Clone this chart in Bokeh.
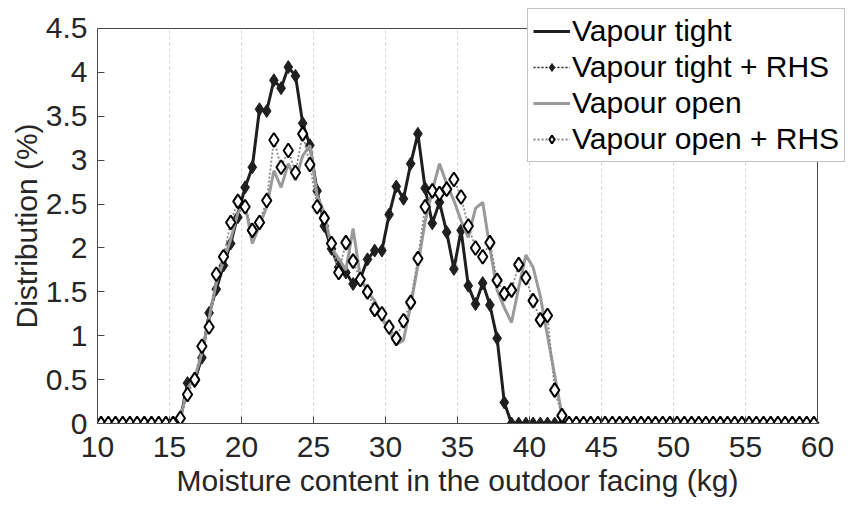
from bokeh.plotting import figure
from bokeh.models import Legend, LegendItem, FixedTicker, Title
from bokeh.embed import file_html
from bokeh.resources import INLINE

FONT = "Liberation Sans"

# Moisture content bin centres (kg)
moisture = [10.25, 10.75, 11.25, 11.75, 12.25, 12.75, 13.25, 13.75, 14.25, 14.75,
            15.25, 15.75, 16.25, 16.75, 17.25, 17.75, 18.25, 18.75, 19.25, 19.75,
            20.25, 20.75, 21.25, 21.75, 22.25, 22.75, 23.25, 23.75, 24.25, 24.75,
            25.25, 25.75, 26.25, 26.75, 27.25, 27.75, 28.25, 28.75, 29.25, 29.75,
            30.25, 30.75, 31.25, 31.75, 32.25, 32.75, 33.25, 33.75, 34.25, 34.75,
            35.25, 35.75, 36.25, 36.75, 37.25, 37.75, 38.25, 38.75, 39.25, 39.75,
            40.25, 40.75, 41.25, 41.75, 42.25, 42.75, 43.25, 43.75, 44.25, 44.75,
            45.25, 45.75, 46.25, 46.75, 47.25, 47.75, 48.25, 48.75, 49.25, 49.75,
            50.25, 50.75, 51.25, 51.75, 52.25, 52.75, 53.25, 53.75, 54.25, 54.75,
            55.25, 55.75, 56.25, 56.75, 57.25, 57.75, 58.25, 58.75, 59.25, 59.75]

tight_rhs = [0]*11 + [0.05, 0.46, 0.48, 0.75, 1.26, 1.53, 1.80, 2.05, 2.35, 2.69,
             2.92, 3.58, 3.56, 3.91, 3.82, 4.06, 3.96, 3.42, 3.17, 2.65,
             2.25, 1.99, 1.78, 1.72, 1.59, 1.65, 1.87, 1.97, 1.97, 2.38,
             2.70, 2.56, 2.96, 3.30, 2.68, 2.28, 2.52, 2.18, 1.76, 2.20,
             1.57, 1.36, 1.60, 1.35, 0.97, 0.24] + [0]*43

tight = [0]*11 + [0.05, 0.45, 0.48, 0.76, 1.25, 1.53, 1.80, 2.05, 2.38, 2.69,
         2.92, 3.58, 3.56, 3.91, 3.82, 4.06, 3.96, 3.42, 3.17, 2.65,
         2.25, 1.99, 1.78, 1.72, 1.59, 1.65, 1.87, 1.97, 1.97, 2.38,
         2.70, 2.56, 2.96, 3.30, 2.68, 2.28, 2.52, 2.18, 1.76, 2.20,
         1.57, 1.36, 1.60, 1.35, 0.97, 0.24] + [0]*43

open_rhs = [0]*11 + [0.06, 0.33, 0.50, 0.88, 1.10, 1.70, 1.90, 2.29, 2.53, 2.47,
            2.20, 2.29, 2.54, 3.23, 2.92, 3.11, 2.86, 3.30, 2.95, 2.47,
            2.34, 2.05, 1.72, 2.06, 1.85, 1.64, 1.50, 1.30, 1.25, 1.10,
            0.97, 1.17, 1.38, 1.88, 2.47, 2.65, 2.62, 2.67, 2.78, 2.58,
            2.25, 2.00, 1.90, 2.06, 1.63, 1.48, 1.52, 1.81, 1.66, 1.40,
            1.18, 1.23, 0.38, 0.09] + [0]*35

vopen = [0]*11 + [0.05, 0.40, 0.52, 0.80, 1.20, 1.60, 1.85, 2.10, 2.40, 2.50,
         2.05, 2.25, 2.47, 2.88, 2.69, 2.96, 2.77, 3.05, 3.17, 2.60,
         2.40, 2.00, 1.88, 1.75, 2.22, 1.67, 1.50, 1.40, 1.20, 1.05,
         0.90, 0.95, 1.35, 1.80, 2.30, 2.65, 2.96, 2.73, 2.54, 2.31,
         2.12, 2.45, 2.52, 2.00, 1.52, 1.32, 1.15, 1.55, 1.92, 1.78,
         1.45, 1.00, 0.55, 0.10] + [0]*35

x_ticks = [10, 15, 20, 25, 30, 35, 40, 45, 50, 55, 60]
y_ticks = [0, 0.5, 1, 1.5, 2, 2.5, 3, 3.5, 4, 4.5]
y_tick_labels = ["0", "0.5", "1", "1.5", "2", "2.5", "3", "3.5", "4", "4.5"]
x_title = "Moisture content in the outdoor facing (kg)"
y_title = "Distribution (%)"

# Axes box: x 10..60, y 0..4.5.  The frame is extended to the top/right so that the
# legend (which sticks out of the axes box in the original) is not clipped.
X0, X1 = x_ticks[0], x_ticks[-1]
Y0, Y1 = y_ticks[0], y_ticks[-1]
PX_PER_X = 14.4     # pixels per kg
PX_PER_Y = 87.78    # pixels per %
LEFT, BOTTOM, W, H = 97, 86, 848, 509
frame_w = W - LEFT
frame_h = H - BOTTOM

p = figure(width=W, height=H,
           x_range=(X0, X0 + frame_w / PX_PER_X), y_range=(Y0, Y0 + frame_h / PX_PER_Y),
           output_backend="svg", toolbar_location=None,
           min_border_left=LEFT, min_border_right=0, min_border_top=0, min_border_bottom=BOTTOM)
p.background_fill_color = "white"
p.border_fill_color = "white"
p.outline_line_color = None

AX = "#4a4a4a"
TXT = "#262626"
for ax in (p.xaxis[0], p.yaxis[0]):
    ax.axis_line_color = AX
    ax.axis_line_width = 1
    ax.major_tick_line_color = AX
    ax.major_tick_in = 7
    ax.major_tick_out = 0
    ax.minor_tick_line_color = None
    ax.major_label_text_font = FONT
    ax.major_label_text_font_size = "30px"
    ax.major_label_text_color = TXT

p.xaxis.ticker = FixedTicker(ticks=x_ticks)
p.yaxis.ticker = FixedTicker(ticks=y_ticks)
p.xaxis.bounds = (X0, X1)
p.yaxis.bounds = (Y0, Y1)
p.yaxis.major_label_overrides = {t: l for t, l in zip(y_ticks, y_tick_labels)}
p.xaxis.major_label_standoff = 13
p.yaxis.major_label_standoff = 10

# Axis titles, centred on the axes box (10..60, 0..4.5) rather than on the wider frame
x_text_w = 562   # approx. rendered width of the x title at 30px
y_text_w = 205   # approx. rendered width of the y title at 30px
box_w = (X1 - X0) * PX_PER_X
box_h = (Y1 - Y0) * PX_PER_Y
xt = Title(text=x_title, align="left", offset=(box_w - x_text_w) / 2,
           text_font=FONT, text_font_size="30px", text_font_style="normal",
           text_color=TXT, standoff=4)
p.add_layout(xt, "below")
yt = Title(text=y_title, align="left", offset=(box_h - y_text_w) / 2,
           text_font=FONT, text_font_size="30px", text_font_style="normal",
           text_color=TXT, standoff=0)
p.add_layout(yt, "left")

p.xgrid.visible = False
p.ygrid.visible = False

# dotted vertical grid lines at the inner x ticks
inner = x_ticks[1:-1]
p.segment(x0=inner, y0=[Y0]*len(inner), x1=inner, y1=[Y1]*len(inner),
          line_color="#d4d4d4", line_width=1, line_dash="3 3")

r_tight = p.line(moisture, tight, line_color="#1f1f1f", line_width=3)
r_trhs_line = p.line(moisture, tight_rhs, line_color="#1f1f1f", line_width=1.5, line_dash="2 2")
r_trhs_pts = p.scatter(moisture, tight_rhs, marker="diamond", size=13,
                       fill_color="#1f1f1f", line_color="#1f1f1f", line_width=1)
r_open = p.line(moisture, vopen, line_color="#9a9a9a", line_width=3)
r_orhs_line = p.line(moisture, open_rhs, line_color="#8a8a8a", line_width=1.8, line_dash="2 2")
r_orhs_pts = p.scatter(moisture, open_rhs, marker="diamond", size=14,
                       fill_color="white", line_color="black", line_width=2)

# top and right edges of the axes box
p.segment(x0=[X0, X1], y0=[Y1, Y0], x1=[X1, X1], y1=[Y1, Y1], line_color=AX, line_width=1)

legend = Legend(items=[
    LegendItem(label="Vapour tight", renderers=[r_tight]),
    LegendItem(label="Vapour tight + RHS", renderers=[r_trhs_line, r_trhs_pts]),
    LegendItem(label="Vapour open", renderers=[r_open]),
    LegendItem(label="Vapour open + RHS", renderers=[r_orhs_line, r_orhs_pts]),
], location=(430, 261))
legend.label_text_font = FONT
legend.label_text_font_size = "30px"
legend.label_text_color = "black"
legend.glyph_width = 37
legend.glyph_height = 20
legend.label_standoff = 2
legend.spacing = 2
legend.padding = 5
legend.margin = 0
legend.border_line_color = "#888888"
legend.border_line_width = 1
legend.background_fill_color = "white"
legend.background_fill_alpha = 1
p.add_layout(legend, "center")

open("out.html", "w").write(file_html(p, INLINE))
